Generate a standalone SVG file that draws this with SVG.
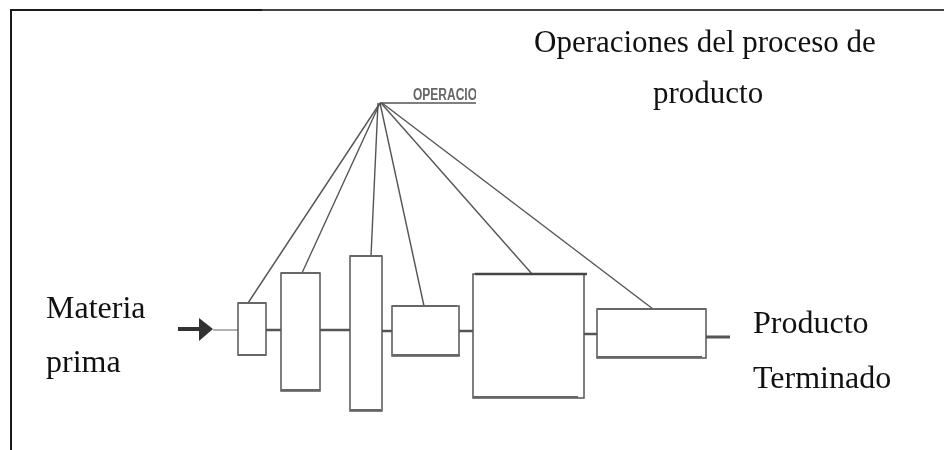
<svg xmlns="http://www.w3.org/2000/svg" width="944" height="450" viewBox="0 0 944 450">
  <defs>
    <filter id="soft" x="-5%" y="-5%" width="110%" height="110%">
      <feGaussianBlur stdDeviation="0.6"/>
    </filter>
    <clipPath id="scanClip">
      <rect x="0" y="0" width="476" height="450"/>
    </clipPath>
  </defs>
  <style>
    .label { font-family: "Liberation Serif", "Times New Roman", serif; font-size: 32px; fill: #111; }
    .title { font-family: "Liberation Serif", "Times New Roman", serif; font-size: 31px; fill: #111; }
    .box { fill: #fff; stroke: #555; stroke-width: 1.5; }
    .edge { fill: none; stroke: #666; stroke-width: 2; }
    .flow { fill: none; stroke: #555; stroke-width: 2.5; }
    .fan { fill: none; stroke: #555; stroke-width: 1.4; }
    .frame { fill: none; stroke: #1a1a1a; stroke-width: 2; }
  </style>

  <rect width="944" height="450" fill="#fff"/>

  <!-- frame -->
  <g id="frame">
    <line class="frame" x1="11" y1="10" x2="262" y2="10"/>
    <line x1="262" y1="10" x2="944" y2="10" stroke="#444" stroke-width="2"/>
    <line class="frame" x1="11" y1="9" x2="11" y2="450"/>
  </g>

  <!-- scanned process sketch -->
  <g id="sketch" filter="url(#soft)">
    <g id="connectors">
      <!-- input arrow -->
      <line x1="178" y1="329" x2="201" y2="329" stroke="#333" stroke-width="4"/>
      <polygon points="199,318 213,329 199,341" fill="#333"/>
      <line x1="213" y1="330" x2="238" y2="330" stroke="#999" stroke-width="1.5"/>
      <!-- flow between operations -->
      <line class="flow" x1="266" y1="330" x2="281" y2="330"/>
      <line class="flow" x1="320" y1="330" x2="350" y2="330"/>
      <line class="flow" x1="382" y1="331" x2="392" y2="331"/>
      <line class="flow" x1="459" y1="331" x2="473" y2="331"/>
      <line class="flow" x1="584" y1="334" x2="597" y2="334"/>
      <line x1="706" y1="337" x2="730" y2="337" stroke="#555" stroke-width="3"/>
      <!-- operation fan -->
      <g clip-path="url(#scanClip)">
        <line class="fan" x1="380" y1="103" x2="476" y2="103"/>
        <text transform="translate(413,100) scale(1,1.3)" font-family="Liberation Sans, Arial, sans-serif" font-size="12" font-weight="bold" fill="#666">OPERACIONES</text>
      </g>
      <line class="fan" x1="380" y1="103" x2="248" y2="303"/>
      <line class="fan" x1="380" y1="103" x2="302" y2="273"/>
      <line class="fan" x1="378" y1="103" x2="371" y2="256"/>
      <line class="fan" x1="380" y1="103" x2="424" y2="306"/>
      <line class="fan" x1="381" y1="103" x2="532" y2="274"/>
      <line class="fan" x1="382" y1="103" x2="653" y2="309"/>
    </g>

    <g id="op1">
      <rect class="box" x="238" y="303" width="28" height="52"/>
      <line class="edge" x1="238" y1="303" x2="266" y2="303"/>
      <line class="edge" x1="238" y1="355" x2="266" y2="355"/>
    </g>
    <g id="op2">
      <rect class="box" x="281" y="273" width="39" height="118"/>
      <line class="edge" x1="281" y1="273" x2="320" y2="273"/>
      <line class="edge" x1="281" y1="390" x2="320" y2="390"/>
    </g>
    <g id="op3">
      <rect class="box" x="350" y="256" width="32" height="155"/>
      <line class="edge" x1="350" y1="256" x2="382" y2="256"/>
      <line class="edge" x1="350" y1="410" x2="381" y2="410"/>
    </g>
    <g id="op4">
      <rect class="box" x="392" y="306" width="67" height="50"/>
      <line class="edge" x1="392" y1="306" x2="457" y2="306"/>
      <line class="edge" x1="392" y1="355" x2="460" y2="355"/>
    </g>
    <g id="op5">
      <rect class="box" x="473" y="274" width="111" height="124"/>
      <line x1="475" y1="274" x2="587" y2="274" stroke="#444" stroke-width="2.5"/>
      <line class="edge" x1="473" y1="397" x2="578" y2="397"/>
    </g>
    <g id="op6">
      <rect class="box" x="597" y="309" width="109" height="49"/>
      <line class="edge" x1="597" y1="309" x2="706" y2="309"/>
      <line class="edge" x1="597" y1="357" x2="702" y2="357"/>
    </g>
  </g>

  <!-- labels -->
  <g id="title">
    <text class="title" x="534" y="52">Operaciones del proceso de</text>
    <text class="title" x="653" y="103">producto</text>
  </g>
  <g id="input-label">
    <text class="label" x="46" y="318">Materia</text>
    <text class="label" x="46" y="372">prima</text>
  </g>
  <g id="output-label">
    <text class="label" x="753" y="333">Producto</text>
    <text class="label" x="753" y="388">Terminado</text>
  </g>
</svg>
